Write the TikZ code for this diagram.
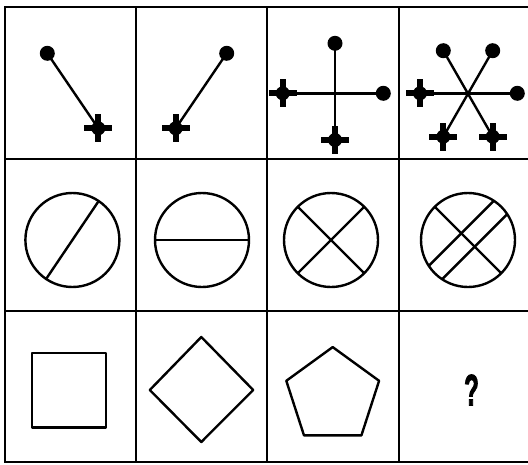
\documentclass[tikz,border=0pt]{standalone}
\usepackage{fontspec}
\usepackage{graphicx}
\newfontface\qfont[FakeBold=2.5]{Liberation Sans Bold}
\begin{document}
\begin{tikzpicture}[x=1pt,y=-1pt,
  gridline/.style={line width=2.4pt},
  conn/.style={line width=2.4pt},
  outline/.style={line width=2.4pt, line join=round},
  dotmark/.style={circle, fill=black, inner sep=0pt, minimum size=15pt},
  crossmark/.pic={
    \fill (-14,-3) rectangle (14,3);
    \fill (-3,-14) rectangle (3,14);
    \fill (0,0) circle (7);
  }
]
\useasboundingbox (0,0) rectangle (528,464);
\clip (0,0) rectangle (528,464);
\fill[white] (0,0) rectangle (528,464);

% grid
\draw[gridline] (5,7) rectangle (545,462);
\foreach \x in {136,267,399} \draw[gridline] (\x,7) -- (\x,462);
\foreach \y in {159,311} \draw[gridline] (5,\y) -- (545,\y);

% ---- row 1 ----
% cell 1
\coordinate (a1) at (47.3,53.3);
\coordinate (a2) at (98.3,128.3);
\draw[conn] (a1) -- (a2);
\node[dotmark] (a1d) at (a1) {};
\pic at (a2) {crossmark};
% cell 2
\coordinate (b1) at (226.7,53.3);
\coordinate (b2) at (175.7,128.3);
\draw[conn] (b1) -- (b2);
\node[dotmark] (b1d) at (b1) {};
\pic at (b2) {crossmark};
% cell 3
\coordinate (c1) at (335,43.3);
\coordinate (c2) at (383.3,93.3);
\coordinate (c3) at (282.7,93.3);
\coordinate (c4) at (335,140);
\draw[conn] (c3) -- (c2);
\draw[conn] (c1) -- (c4);
\node[dotmark] (c1d) at (c1) {};
\node[dotmark] (c2d) at (c2) {};
\pic at (c3) {crossmark};
\pic at (c4) {crossmark};
% cell 4
\coordinate (d1) at (443.3,50.7);
\coordinate (d2) at (492.7,50.7);
\coordinate (d3) at (517.3,93.3);
\coordinate (d4) at (420,93.3);
\coordinate (d5) at (443.3,136.7);
\coordinate (d6) at (492.7,136.7);
\draw[conn] (d1) -- (d6);
\draw[conn] (d2) -- (d5);
\draw[conn] (d4) -- (d3);
\node[dotmark] (d1d) at (d1) {};
\node[dotmark] (d2d) at (d2) {};
\node[dotmark] (d3d) at (d3) {};
\pic at (d4) {crossmark};
\pic at (d5) {crossmark};
\pic at (d6) {crossmark};

% ---- row 2 ----
\draw[outline] (72.4,240) circle (47);
\draw[outline] (98.7,201) -- (46.1,279);
\draw[outline] (202,240) circle (47);
\draw[outline] (155,240) -- (249,240);
\draw[outline] (331,240) circle (47);
\draw[outline] (297.8,206.8) -- (364.2,273.2);
\draw[outline] (297.8,273.2) -- (364.2,206.8);
\draw[outline] (468,240) circle (47);
\draw[outline] (434.8,206.8) -- (501.2,273.2);
\draw[outline] (428.8,265.8) -- (493.8,200.8);
\draw[outline] (442.2,279.2) -- (507.2,214.2);

% ---- row 3 ----
\draw[outline] (32,353) rectangle (106,427.3);
\draw[outline] (201.3,337) -- (253.2,390) -- (201.3,442) -- (149.8,390) -- cycle;
\draw[outline] (332.7,347.1) -- (379.1,380.8) -- (361.4,435.4) -- (304,435.4) -- (286.3,380.8) -- cycle;
\node (q) at (471.5,390) {\scalebox{0.55}[1]{\qfont\fontsize{44}{44}\selectfont ?}};
\end{tikzpicture}
\end{document}
